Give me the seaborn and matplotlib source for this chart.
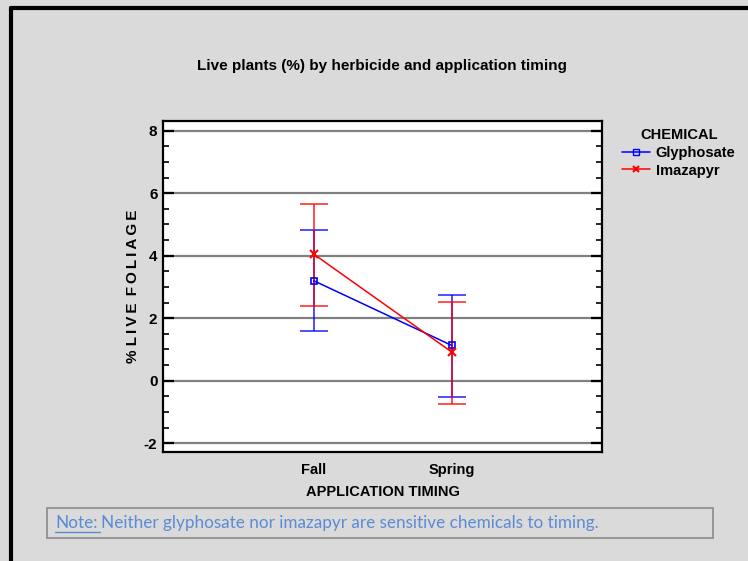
import matplotlib
matplotlib.use("Agg")
import matplotlib.pyplot as plt
import seaborn as sns
import pandas as pd
from matplotlib.lines import Line2D
from matplotlib.patches import Rectangle
from matplotlib.ticker import MultipleLocator

# values
timing = ["Fall", "Spring"]
chemicals = ["Glyphosate", "Imazapyr"]
glyphosate_mean = [3.20, 1.13]
glyphosate_low = [1.58, -0.52]
glyphosate_high = [4.81, 2.74]
imazapyr_mean = [4.05, 0.92]
imazapyr_low = [2.39, -0.74]
imazapyr_high = [5.65, 2.52]

colors = {"Glyphosate": "#0000ff", "Imazapyr": "#ff0000"}

df = pd.DataFrame({
    "timing": timing * 2,
    "chemical": ["Glyphosate"] * 2 + ["Imazapyr"] * 2,
    "mean": glyphosate_mean + imazapyr_mean,
    "low": glyphosate_low + imazapyr_low,
    "high": glyphosate_high + imazapyr_high,
})

sns.set_theme(style="white")
plt.rcParams["font.family"] = ["Liberation Sans", "DejaVu Sans"]
plt.rcParams["axes.unicode_minus"] = False
plt.rcParams["text.color"] = "black"
plt.rcParams["axes.labelcolor"] = "black"
plt.rcParams["xtick.color"] = "black"
plt.rcParams["ytick.color"] = "black"
BG = "#dadada"

fig = plt.figure(figsize=(7.48, 5.61), dpi=100, facecolor=BG)
ax = fig.add_axes([163 / 748, 1 - 452 / 561, 439 / 748, 331 / 561])
ax.set_facecolor("white")

# mean lines through seaborn, then restyle the markers
sns.lineplot(data=df, x="timing", y="mean", hue="chemical", palette=colors,
             linewidth=1.1, ax=ax, legend=False, zorder=4)
for ln in list(ax.lines):
    if ln.get_color() == "#0000ff":
        ln.set_marker("s")
        ln.set_markerfacecolor("none")
        ln.set_markeredgecolor("#0000ff")
        ln.set_markersize(5)
        ln.set_markeredgewidth(1.2)
    else:
        ln.set_marker("x")
        ln.set_markeredgecolor("#ff0000")
        ln.set_markersize(6)
        ln.set_markeredgewidth(1.5)

# error bars
for chem in chemicals:
    sub = df[df["chemical"] == chem]
    ax.errorbar(sub["timing"], sub["mean"],
                yerr=[sub["mean"] - sub["low"], sub["high"] - sub["mean"]],
                fmt="none", ecolor=colors[chem], elinewidth=1.3,
                capsize=10, capthick=1.3, alpha=0.75, zorder=3)

ax.set_xlim(-1.092, 2.089)
ax.set_ylim(-2.28, 8.31)
ax.yaxis.set_major_locator(MultipleLocator(2))
ax.yaxis.set_minor_locator(MultipleLocator(0.5))
ax.grid(True, axis="y", which="major", color="#808080", linewidth=1.6, zorder=0)
ax.set_axisbelow(True)
for sp in ax.spines.values():
    sp.set_color("black")
    sp.set_linewidth(1.6)
ax.tick_params(axis="y", which="major", direction="in", length=8, width=1.6,
               left=True, right=True, labelsize=11, pad=4)
ax.tick_params(axis="y", which="minor", direction="in", length=4, width=1.2,
               left=True, right=True)
ax.tick_params(axis="x", length=0, labelsize=10.5, pad=8)
for lab in ax.get_xticklabels() + ax.get_yticklabels():
    lab.set_fontweight("bold")

ax.set_xlabel("APPLICATION TIMING", fontsize=10.5, fontweight="bold", labelpad=6)
ax.set_ylabel("% L\u2009I\u2009V\u2009E\u2009 F\u2009O\u2009L\u2009I\u2009A\u2009G\u2009E",
              fontsize=11, fontweight="bold", labelpad=3)

fig.text(382 / 748, 1 - 66 / 561, "Live plants (%) by herbicide and application timing",
         ha="center", va="center", fontsize=11, fontweight="bold")

# legend
handles = [Line2D([0], [0], color="#0000ff", marker="s", markerfacecolor="none",
                  markersize=5, linewidth=1.1),
           Line2D([0], [0], color="#ff0000", marker="x", markersize=5,
                  markeredgewidth=1.5, linewidth=1.1)]
leg = fig.legend(handles, chemicals, title="CHEMICAL", loc="upper left",
                 bbox_to_anchor=(612 / 748, 1 - 118 / 561), frameon=False,
                 prop={"weight": "bold", "size": 10.5}, handlelength=1.9,
                 handletextpad=0.4, labelspacing=0.25, borderpad=0.2)
leg.get_title().set_fontweight("bold")
leg.get_title().set_fontsize(10.5)

# note box
fig.patches.append(Rectangle((47 / 748, 1 - 538 / 561), 666 / 748, 30 / 561,
                             transform=fig.transFigure, facecolor="none",
                             edgecolor="#8a8a8a", linewidth=1.2))
note_y = 1 - 523 / 561
note_font = dict(fontsize=12.3, color="#5b8bd5", family=["Lato", "DejaVu Sans"])
t1 = fig.text(55 / 748, note_y, "Note:", ha="left", va="center", **note_font)
fig.canvas.draw()
bb = t1.get_window_extent()
x_end = bb.x1 / fig.bbox.width
fig.text(x_end + 4 / 748, note_y,
         "Neither glyphosate nor imazapyr are sensitive chemicals to timing.",
         ha="left", va="center", **note_font)
fig.add_artist(Line2D([55 / 748, x_end + 2 / 748], [1 - 531.5 / 561] * 2,
                      transform=fig.transFigure, color="#5b8bd5", linewidth=1))

# black frame lines at top and left
fig.add_artist(Line2D([11 / 748, 1], [1 - 8 / 561] * 2, transform=fig.transFigure,
                      color="black", linewidth=3))
fig.add_artist(Line2D([11 / 748] * 2, [0, 1 - 8 / 561], transform=fig.transFigure,
                      color="black", linewidth=3))

fig.savefig("out.png", dpi=100, facecolor=BG)
